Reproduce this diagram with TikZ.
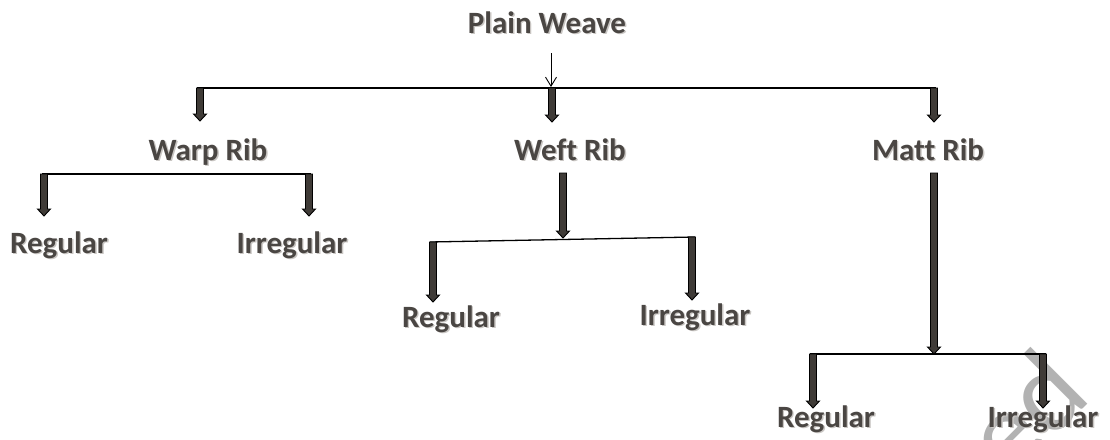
\documentclass[tikz,border=0pt]{standalone}
\usepackage{fontspec}
\setmainfont[Ligatures={NoCommon}]{Carlito}
\usetikzlibrary{arrows.meta,calc}

\definecolor{labelgray}{HTML}{4A4643}
\definecolor{labelshadow}{HTML}{C9C6C3}
\definecolor{arrowfill}{HTML}{3F3B37}
\definecolor{markgray}{HTML}{B2B2B2}

% label text with a soft offset shadow
\newcommand{\shadowed}[1]{%
  \makebox[0pt][l]{\hspace{1.4pt}\raisebox{-1.4pt}{\textcolor{labelshadow}{#1}}}%
  \textcolor{labelgray}{#1}}

\tikzset{
  lbl/.style={inner sep=0pt, anchor=base,
    font=\fontsize{31}{37}\selectfont\bfseries},
  bar/.style={line width=1.3pt, black},
  thinarrow/.style={line width=0.9pt, -{Straight Barb[length=9pt,width=11pt,line width=0.9pt]}},
  % fat downward arrow drawn as a filled outline
  blockarrow/.style={fill=arrowfill, draw=black, line width=0.9pt, line join=miter,
    to path={let \p1=(\tikztostart), \p2=(\tikztotarget) in
      (\x1-3.5pt,\y1) -- (\x1+3.5pt,\y1) -- (\x1+3.5pt,\y2+7pt)
      -- (\x1+6.5pt,\y2+7pt) -- (\x1,\y2) -- (\x1-6.5pt,\y2+7pt)
      -- (\x1-3.5pt,\y2+7pt) -- cycle}},
}

\begin{document}
\begin{tikzpicture}[x=1pt,y=-1pt]
\useasboundingbox (0,0) rectangle (1110,439);

% faint diagonal mark in the lower right corner
\node[inner sep=0pt, anchor=base east, rotate=45, text=markgray,
      font=\fontsize{116}{124}\selectfont] (mark) at (1094,398) {ked};

% labels
\node[lbl] (pw)  at (547,33)   {\shadowed{Plain Weave}};
\node[lbl] (wr)  at (208,160)  {\shadowed{Warp Rib}};
\node[lbl] (fr)  at (570,160)  {\shadowed{Weft Rib}};
\node[lbl] (mr)  at (928,160)  {\shadowed{Matt Rib}};
\node[lbl] (wrr) at (59,253)   {\shadowed{Regular}};
\node[lbl] (wri) at (292,253)  {\shadowed{Irregular}};
\node[lbl] (frr) at (451,327)  {\shadowed{Regular}};
\node[lbl] (fri) at (695,325)  {\shadowed{Irregular}};
\node[lbl] (mrr) at (826,427)  {\shadowed{Regular}};
\node[lbl] (mri) at (1043,427) {\shadowed{Irregular}};

% junction points and arrow tips
\coordinate (pwS) at (551,53);
\coordinate (pwT) at (551,87);
\coordinate (topL) at (197,88);
\coordinate (topR) at (936,88);
\coordinate (t1) at (200,88);   \coordinate (t1e) at (200,121);
\coordinate (t2) at (552,88);   \coordinate (t2e) at (552,122);
\coordinate (t3) at (934,88);   \coordinate (t3e) at (934,122);

\coordinate (wL) at (42,174);   \coordinate (wR) at (311,174);
\coordinate (w1) at (44,174);   \coordinate (w1e) at (44,216);
\coordinate (w2) at (309,174);  \coordinate (w2e) at (309,216);

\coordinate (fS) at (563,173);  \coordinate (fT) at (563,238);
\coordinate (fL) at (430,242);  \coordinate (fR) at (695,237);
\coordinate (f1) at (433,242);  \coordinate (f1e) at (433,302);
\coordinate (f2) at (692,237);  \coordinate (f2e) at (692,300);

\coordinate (mS) at (934,173);  \coordinate (mT) at (934,354);
\coordinate (mL) at (810,354);  \coordinate (mR) at (1046,354);
\coordinate (m1) at (813,354);  \coordinate (m1e) at (813,408);
\coordinate (m2) at (1043,354); \coordinate (m2e) at (1043,408);

% top level
\draw[thinarrow] (pwS) -- (pwT);
\draw[bar] (topL) -- (topR);
\draw[blockarrow] (t1) to (t1e);
\draw[blockarrow] (t2) to (t2e);
\draw[blockarrow] (t3) to (t3e);

% warp rib branch
\draw[bar] (wL) -- (wR);
\draw[blockarrow] (w1) to (w1e);
\draw[blockarrow] (w2) to (w2e);

% weft rib branch
\draw[blockarrow] (fS) to (fT);
\draw[bar] (fL) -- (fR);
\draw[blockarrow] (f1) to (f1e);
\draw[blockarrow] (f2) to (f2e);

% matt rib branch
\draw[blockarrow] (mS) to (mT);
\draw[bar] (mL) -- (mR);
\draw[blockarrow] (m1) to (m1e);
\draw[blockarrow] (m2) to (m2e);
\end{tikzpicture}
\end{document}
